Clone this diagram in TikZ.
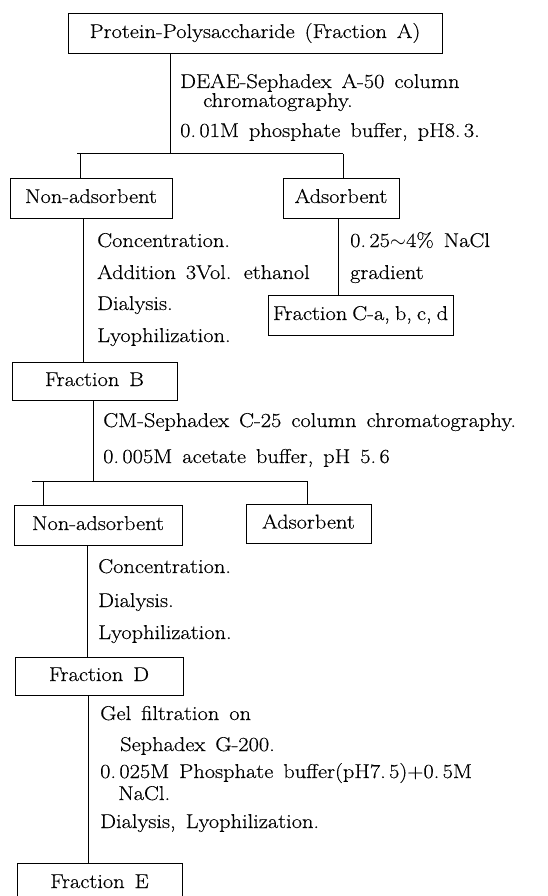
\documentclass[tikz,border=0pt]{standalone}
\usepackage{fontspec}
\setmainfont{Latin Modern Roman}[FakeStretch=1.12, FakeBold=0.4]
\tikzset{
  txtfont/.style={font={\fontsize{20}{24}\selectfont\spaceskip=10pt plus 2pt minus 1pt}},
  lbl/.style={txtfont, anchor=base west, inner sep=0pt},
  box/.style={txtfont, draw, line width=0.8pt, inner sep=0pt, text height=14pt, text depth=4pt},
  ln/.style={line width=1pt}
}
\begin{document}
\begin{tikzpicture}[x=1pt,y=-1pt]
\useasboundingbox (0,0) rectangle (548,896);
% boxes
\node[box, minimum width=374pt, minimum height=40pt] (A) at (255,33) {Protein-Polysaccharide (Fraction A)};
\node[box, minimum width=162pt, minimum height=40pt] (NA1) at (91,198) {Non-adsorbent};
\node[box, minimum width=116pt, minimum height=40pt] (AD1) at (341,198) {Adsorbent};
\node[box, minimum width=185pt, minimum height=40pt] (FC) at (360.5,315) {\spaceskip=5pt plus 1pt Fraction C-a, b, c, d};
\node[box, minimum width=165pt, minimum height=38pt] (FB) at (94.5,381) {Fraction B};
\node[box, minimum width=168pt, minimum height=40pt] (NA2) at (98,525) {Non-adsorbent};
\node[box, minimum width=125pt, minimum height=39pt] (AD2) at (308.5,523.5) {Adsorbent};
\node[box, minimum width=168pt, minimum height=38pt] (FD) at (99,676) {Fraction D};
\node[box, minimum width=165pt, minimum height=40pt] (FE) at (99.5,883) {Fraction E};
% step texts
\node[lbl, text depth=0pt] (t1) at (180,88) {DEAE-Sephadex A-50 column};
\node[lbl, text height=11pt] (t2) at (203,107) {chromatography.};
\node[lbl] (t3) at (180,137) {0.\,01M phosphate buffer, pH8.\,3.};
\node[lbl] (t4) at (97,247) {Concentration.};
\node[lbl] (t5) at (97,279) {Addition 3Vol. ethanol};
\node[lbl] (t6) at (97,310) {Dialysis.};
\node[lbl] (t7) at (97,342) {Lyophilization.};
\node[lbl] (t8) at (350,247) {0.\,25$\sim$4\% NaCl};
\node[lbl] (t9) at (350,279) {gradient};
\node[lbl] (t10) at (103,427) {CM-Sephadex C-25 column chromatography.};
\node[lbl] (t11) at (103,463) {0.\,005M acetate buffer, pH 5.\,6};
\node[lbl] (t12) at (98,573) {Concentration.};
\node[lbl] (t13) at (98,607) {Dialysis.};
\node[lbl] (t14) at (98,639) {Lyophilization.};
\node[lbl] (t15) at (100,720) {Gel filtration on};
\node[lbl] (t16) at (120,751) {Sephadex G-200.};
\node[lbl, text depth=0pt] (t17) at (100,778) {0.\,025M Phosphate buffer(pH7.\,5)+0.\,5M};
\node[lbl, text height=12pt] (t18) at (118,800) {NaCl.};
\node[lbl] (t19) at (100,828) {Dialysis, Lyophilization.};
% connector coordinates
\coordinate (j1) at (170,154);
\coordinate (j1s) at (77,154);
\coordinate (j1l) at (80,154);
\coordinate (j1r) at (343,154);
\coordinate (x1) at (83,0);
\coordinate (x2) at (338,0);
\coordinate (j2) at (93,481);
\coordinate (j2s) at (32,481);
\coordinate (j2l) at (43,481);
\coordinate (j2r) at (307,481);
\coordinate (x3) at (87,0);
\coordinate (x4) at (88,0);
% connectors
\draw[ln] (A.south -| j1) -- (j1);
\draw[ln] (j1s) -- (j1r);
\draw[ln] (j1l) -- (NA1.north -| j1l);
\draw[ln] (j1r) -- (AD1.north -| j1r);
\draw[ln] (NA1.south -| x1) -- (FB.north -| x1);
\draw[ln] (AD1.south -| x2) -- (FC.north -| x2);
\draw[ln] (FB.south -| j2) -- (j2);
\draw[ln] (j2s) -- (j2r);
\draw[ln] (j2l) -- (NA2.north -| j2l);
\draw[ln] (j2r) -- (AD2.north -| j2r);
\draw[ln] (NA2.south -| x3) -- (FD.north -| x3);
\draw[ln] (FD.south -| x4) -- (FE.north -| x4);
\end{tikzpicture}
\end{document}
